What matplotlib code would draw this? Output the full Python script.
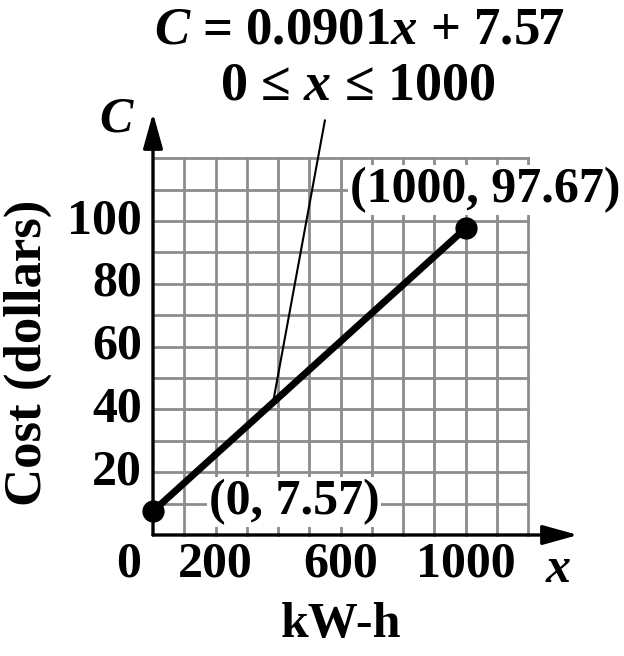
import numpy as np
import matplotlib
matplotlib.use('Agg')
import matplotlib.pyplot as plt

# cost line C = 0.0901x + 7.57, 0 <= x <= 1000

x_end = [0, 1000]
c_end = [7.57, 97.67]
end_labels = ['(0, 7.57)', '(1000, 97.67)']
xtick_vals = [0, 200, 600, 1000]
ytick_vals = [20, 40, 60, 80, 100]
grid_x = np.arange(100, 1300, 100)
grid_y = np.arange(10, 130, 10)

plt.rcParams['font.family'] = 'Liberation Serif'
plt.rcParams['font.weight'] = 'bold'
plt.rcParams['mathtext.fontset'] = 'custom'
plt.rcParams['mathtext.rm'] = 'Liberation Serif:bold'
plt.rcParams['mathtext.it'] = 'Liberation Serif:bold:italic'

W, H = 624, 656
fig = plt.figure(figsize=(W/100, H/100), dpi=100)
ax = fig.add_axes([0, 0, 1, 1])
ax.axis('off')

# pixel -> data mapping: x=0 at px 153, 0.3125 px/unit ; y=0 at px 535, 3.14 px/unit
x0px, sx = 153, 0.3125
y0px, sy = 535, 3.14
ax.set_xlim(-x0px/sx, (W-x0px)/sx)
ax.set_ylim(-(H-y0px)/sy, y0px/sy)

def px(xp, yp):
    return (xp-x0px)/sx, (y0px-yp)/sy

# grid
gcol = '#8c8c8c'
for gx in grid_x:
    ax.plot([gx, gx], [0, 120], color=gcol, lw=2, zorder=1)
for gy in grid_y:
    ax.plot([0, 1200], [gy, gy], color=gcol, lw=2, zorder=1)

# axes with arrows
arr = dict(arrowstyle='-|>,head_length=1.08,head_width=0.3', color='black', lw=2.4,
           mutation_scale=20, shrinkA=0, shrinkB=0)
ax.annotate('', xy=(1360, 0), xytext=(0, 0), arrowprops=arr, zorder=3)
ax.annotate('', xy=(0, 134.4), xytext=(0, 0), arrowprops=arr, zorder=3)

# cost line and end points
ax.plot(x_end, c_end, color='black', lw=5, solid_capstyle='butt', zorder=4)
ax.plot(x_end, c_end, 'o', color='black', ms=15, zorder=5)

# pointer from equation to the line
xp = 384
ax.plot([xp, 550], [0.0901*xp + 7.57, 132], color='black', lw=1.5, zorder=4)

fs = 36
# tick labels
for v in ytick_vals:
    ax.text(-35, v, str(v), ha='right', va='center', fontsize=fs)
for v in xtick_vals:
    xv = v if v != 0 else -77
    ax.text(xv, -9.5, str(v), ha='center', va='center', fontsize=fs)

# point labels
bb = dict(facecolor='white', edgecolor='none', pad=1)
ax.text(*px(485, 190), end_labels[1], ha='center', va='center', fontsize=fs, bbox=bb, zorder=6)
ax.text(*px(294, 502), end_labels[0], ha='center', va='center', fontsize=fs, bbox=bb, zorder=6)

# axis labels
ax.text(*px(117, 120), '$C$', ha='center', va='center', fontsize=fs)
ax.text(*px(558, 570), '$x$', ha='center', va='center', fontsize=fs)
ax.text(*px(341, 625), 'kW-h', ha='center', va='center', fontsize=fs)
ax.text(*px(28, 353), 'Cost (dollars)', ha='center', va='center', fontsize=38, rotation=90)

# equation
ax.text(*px(359, 31), r'$C$ = 0.0901$x$ + 7.57', ha='center', va='center', fontsize=38)
ax.text(*px(358, 86), r'0 ≤ $x$ ≤ 1000', ha='center', va='center', fontsize=39)

fig.savefig('out.png', dpi=100)
